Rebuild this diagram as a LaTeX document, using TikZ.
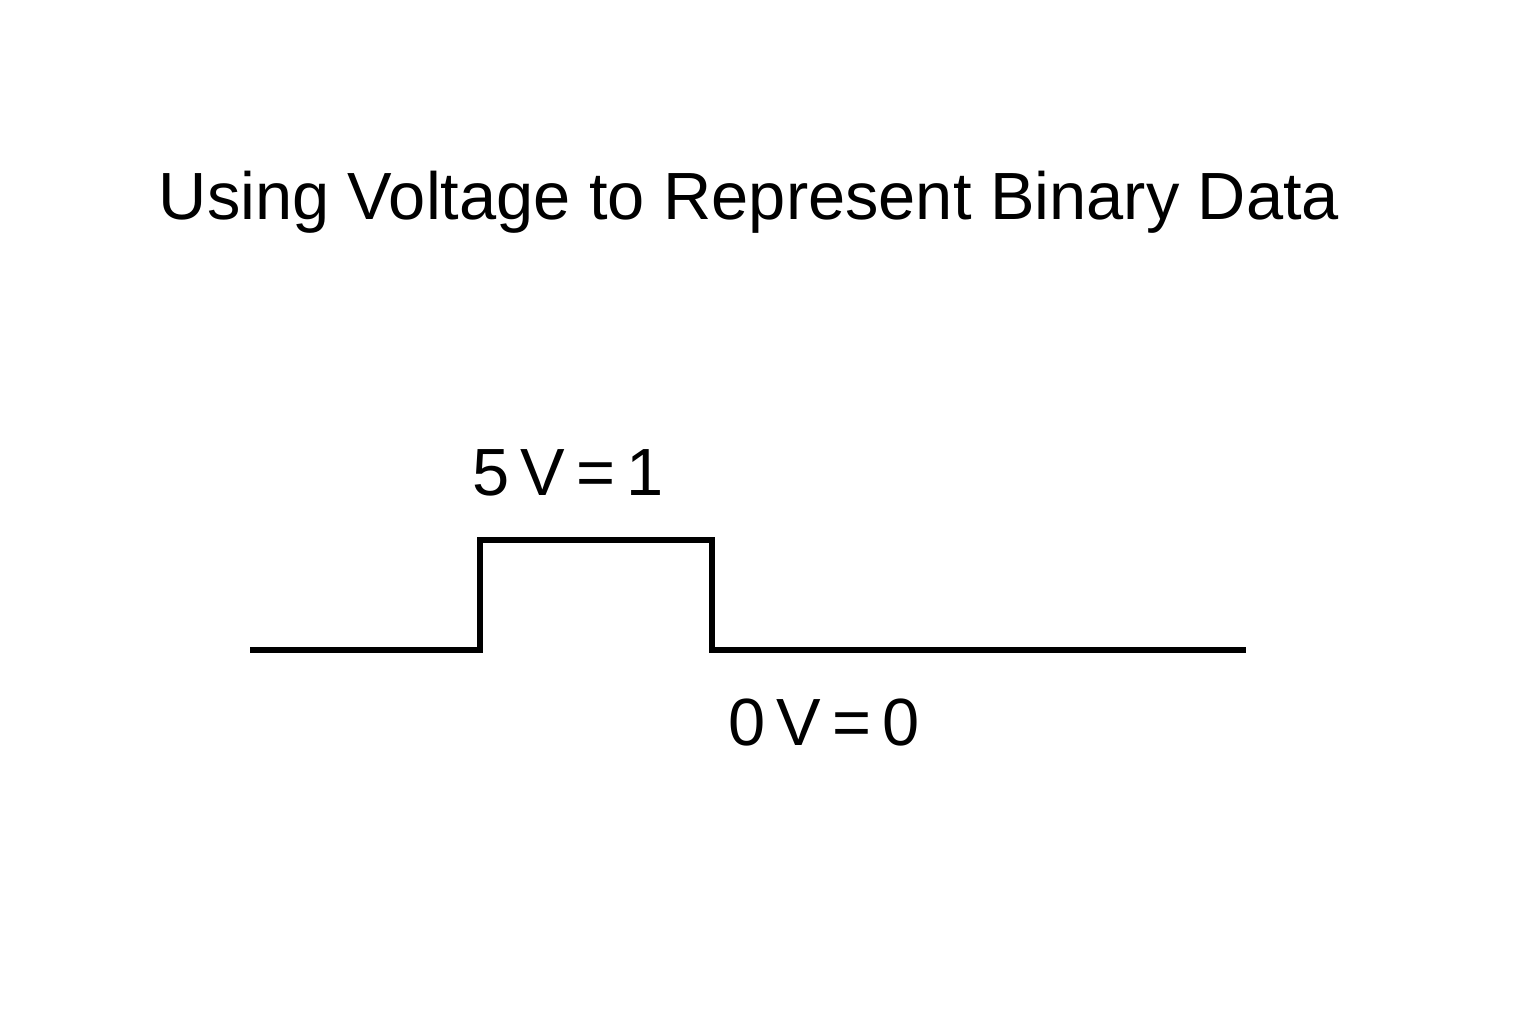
\documentclass[tikz,border=0pt]{standalone}
\usepackage{fontspec}
\setmainfont{Liberation Sans}
\begin{document}
\begin{tikzpicture}

      \useasboundingbox (0,0) rectangle (15.36,10.24);

      \node (title) at (7.49,8.22) {\fontsize{19}{22}\selectfont Using Voltage to Represent Binary Data};

      \begin{scope}[every node/.style={font=\fontsize{19}{22}\selectfont}]
        \node (high) at (5.68,5.51) {5\,V\,=\,1};
        \node (low)  at (8.24,3.01) {0\,V\,=\,0};
      \end{scope}

      \coordinate (s0) at (2.50,3.74);
      \coordinate (s1) at (4.80,3.74);
      \coordinate (s2) at (4.80,4.84);
      \coordinate (s3) at (7.12,4.84);
      \coordinate (s4) at (7.12,3.74);
      \coordinate (s5) at (12.46,3.74);

      \draw[line width=1.5pt] (s0) -- (s1) -- (s2) -- (s3) -- (s4) -- (s5);

    \end{tikzpicture}
\end{document}
